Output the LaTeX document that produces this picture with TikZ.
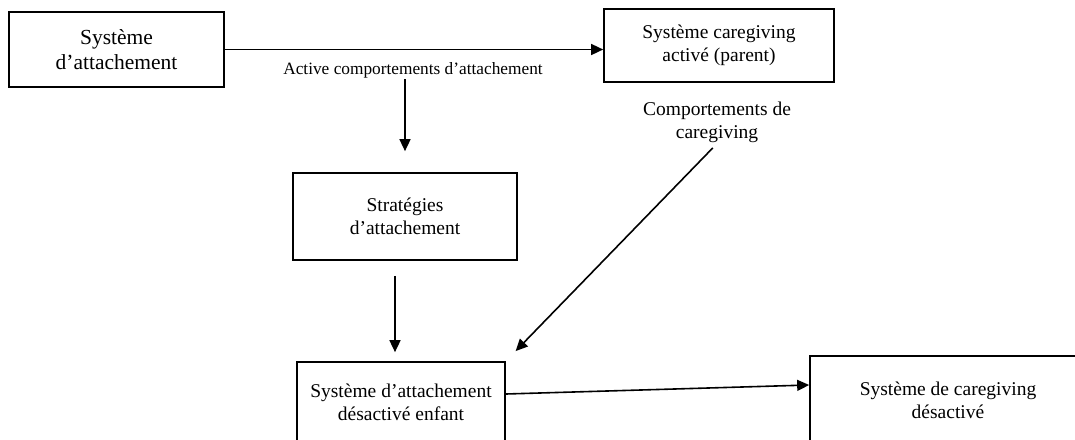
\documentclass[tikz,border=0pt]{standalone}
\usepackage{fontspec}
\setmainfont{Liberation Serif}
\usetikzlibrary{arrows.meta,positioning}
\tikzset{%
	process/.style = {draw, rectangle, line width=1.7pt, inner sep=0pt, align=center, font=\fontsize{19.5}{23}\selectfont},
	note/.style    = {align=center, inner sep=1pt, font=\fontsize{19.5}{23}\selectfont},
	arrow/.style   = {line width=1.6pt, -{Triangle[length=12pt,width=11pt]}},
}

\begin{document}
\begin{tikzpicture}[x=1pt,y=-1pt]
	\useasboundingbox (0,0) rectangle (1075,439);
	\clip (0,0) rectangle (1075,439);

	% boxes
	\node[process, minimum width=215pt, minimum height=75pt, font=\fontsize{21.5}{25}\selectfont] (att) at (116.5,49.5) {Système\\d’attachement};
	\node[process, minimum width=230pt, minimum height=73pt] (care) at (719,45.5) {Système caregiving\\activé (parent)};
	\node[process, minimum width=224pt, minimum height=87pt] (strat) at (405,216.5) {Stratégies\\d’attachement};
	\node[process, minimum width=208pt, minimum height=80pt] (enf) at (401,402) {Système d’attachement\\désactivé enfant};
	\node[process, minimum width=276pt, minimum height=88pt] (desact) at (948,400) {Système de caregiving\\désactivé};

	% labels
	\node[note, font=\fontsize{17.3}{20}\selectfont] (act) at (413,70) {Active comportements d’attachement};
	\node[note] (cg) at (717,122) {Comportements de\\caregiving};

	% arrows
	\draw[arrow] (att.east) -- (att.east -| care.west);
	\draw[arrow, shorten >=21pt] (act.south -| strat.north) -- (strat.north);
	\draw[arrow, shorten <=15pt, shorten >=9pt] ([xshift=-10pt]strat.south) -- ([xshift=-6pt]enf.north);
	\draw[arrow, shorten <=6pt, shorten >=14pt] (cg.south) -- (enf.north east);
	\draw[arrow] ([yshift=8pt]enf.east) -- ([yshift=15pt]desact.west);
\end{tikzpicture}
\end{document}
